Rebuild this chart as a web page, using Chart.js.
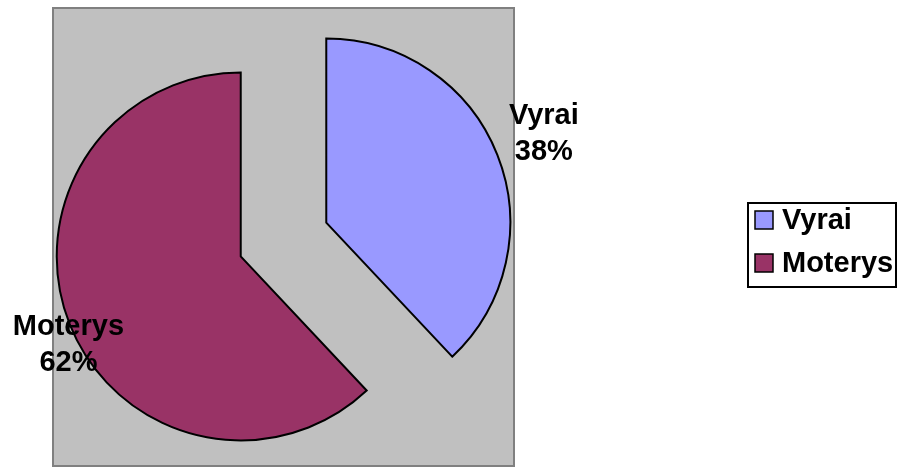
<!DOCTYPE html>
<html lang="lt">
<head>
  <meta charset="utf-8" />
  <title>Vyrai ir moterys</title>
  <style>
html, body { margin: 0; padding: 0; background: #fff; }
#chartContainer { width: 901px; height: 468px; }
  </style>
</head>
<body>
  <div id="chartContainer">
    <canvas id="myChart"></canvas>
  </div>
  <script src="https://cdn.jsdelivr.net/npm/chart.js"></script>
  <script>
// duomenys
const labels = ['Vyrai', 'Moterys'];
const shares = [38, 62];
const colors = ['#9999FF', '#993366'];

const FONT = 'bold 29px "Liberation Sans", Arial, sans-serif';

// pilkas brėžinio fonas (šiek tiek išplėstas virš/po chartArea)
const plotBg = {
  id: 'plotBg',
  beforeDraw(chart, args, o) {
    const {ctx, chartArea: a} = chart;
    const top = a.top - o.growTop;
    const h = a.height + o.growTop + o.growBottom;
    ctx.save();
    ctx.fillStyle = '#C0C0C0';
    ctx.fillRect(a.left, top, a.width, h);
    ctx.strokeStyle = '#808080';
    ctx.lineWidth = 2;
    ctx.strokeRect(a.left, top, a.width, h);
    ctx.restore();
  }
};

// Chart.js atitrauktai skilčiai padidina spindulį (offset/4 * fix)
// ir šiek tiek susiaurina kampą -> atstatom, kad kraštai būtų tiesūs
const sameRadius = {
  id: 'sameRadius',
  afterDatasetsUpdate(chart, args, opts) {
    const meta = chart.getDatasetMeta(0);
    meta.data.forEach(arc => {
      const off = (arc.options.offset || 0) / 4;
      const fix = 1 - Math.sin(Math.min(Math.PI, arc.circumference));
      const ro = off * fix;
      arc.outerRadius = opts.radius - ro;
      const ao = (ro / Math.PI) / opts.radius / 2;
      arc.startAngle -= ao;
      arc.endAngle += ao;
    });
  }
};

// užrašai prie skilčių
const sliceLabels = {
  id: 'sliceLabels',
  afterDatasetsDraw(chart, args, opts) {
    const {ctx} = chart;
    const meta = chart.getDatasetMeta(0);
    const total = shares.reduce((a, b) => a + b, 0);
    ctx.save();
    ctx.font = FONT;
    ctx.fillStyle = '#000';
    ctx.textAlign = 'center';
    ctx.textBaseline = 'middle';
    meta.data.forEach((arc, i) => {
      const p = arc.getProps(['x', 'y', 'startAngle', 'endAngle']);
      const mid = (p.startAngle + p.endAngle) / 2;
      const d = opts.distance[i];
      const cx = p.x + Math.cos(mid) * d + opts.shift[i][0];
      const cy = p.y + Math.sin(mid) * d + opts.shift[i][1];
      const pct = Math.round(shares[i] / total * 100) + '%';
      ctx.fillText(labels[i], cx, cy - 18);
      ctx.fillText(pct, cx, cy + 18);
    });
    ctx.restore();
  }
};

// legenda su rėmeliu
const boxLegend = {
  id: 'boxLegend',
  afterDraw(chart, args, o) {
    const {ctx} = chart;
    ctx.save();
    ctx.strokeStyle = '#000';
    ctx.lineWidth = 2;
    ctx.strokeRect(o.x, o.y, o.w, o.h);
    ctx.font = FONT;
    ctx.textBaseline = 'middle';
    labels.forEach((lab, i) => {
      const cy = o.y + o.firstRow + i * o.rowGap;
      ctx.fillStyle = colors[i];
      ctx.fillRect(o.x + 7, cy - 9, 18, 18);
      ctx.lineWidth = 1.5;
      ctx.strokeRect(o.x + 7, cy - 9, 18, 18);
      ctx.fillStyle = '#000';
      ctx.fillText(lab, o.x + 34, cy + 1);
    });
    ctx.restore();
  }
};

const ctx = document.getElementById('myChart');
new Chart(ctx, {
  type: 'pie',
  data: {
    labels: labels,
    datasets: [{
      data: shares,
      backgroundColor: colors,
      borderColor: '#000',
      borderWidth: 2,
      borderJoinStyle: 'miter',
      offset: 184,   // arc.draw naudoja offset/4 -> ~46 px
      radius: 184
    }]
  },
  options: {
    responsive: true,
    maintainAspectRatio: false,
    animation: false,
    layout: { padding: { left: 53, right: 387, top: 11, bottom: 0 } },
    plugins: {
      legend: { display: false },
      tooltip: { enabled: false },
      plotBg: { growTop: 3, growBottom: -2 },
      sameRadius: { radius: 184 },
      sliceLabels: { distance: [280, 241], shift: [[0, -2], [9, 17]] },
      boxLegend: { x: 748, y: 203, w: 148, h: 84, firstRow: 17, rowGap: 43 }
    }
  },
  plugins: [plotBg, sameRadius, sliceLabels, boxLegend]
});
  </script>
</body>
</html>
